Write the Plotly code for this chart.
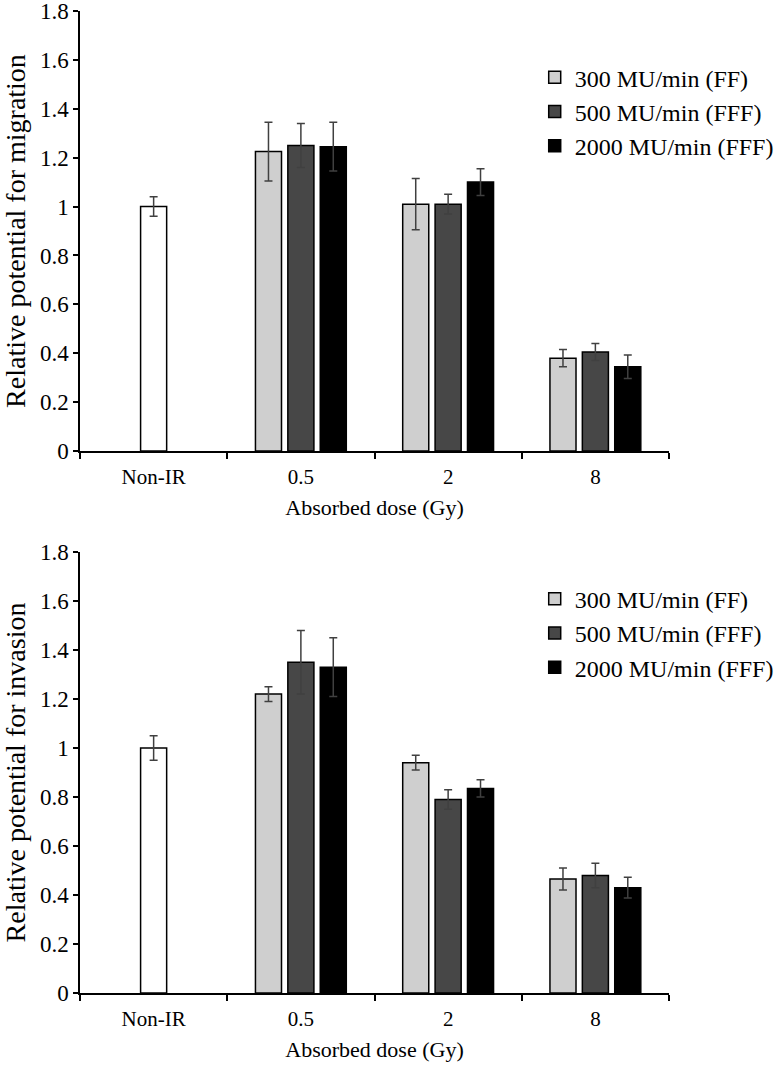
import plotly.graph_objects as go
from plotly.subplots import make_subplots

categories = ["Non-IR", "0.5", "2", "8"]
dose_groups = ["0.5", "2", "8"]
series_names = ["300 MU/min (FF)", "500 MU/min (FFF)", "2000 MU/min (FFF)"]
series_colors = ["#cfcfcf", "#474747", "#000000"]

# Migration (top)
mig_control = [1.0]
mig_control_err = [0.04]
mig_ff300 = [1.225, 1.01, 0.38]
mig_ff300_err = [0.12, 0.105, 0.035]
mig_fff500 = [1.25, 1.01, 0.405]
mig_fff500_err = [0.09, 0.04, 0.035]
mig_fff2000 = [1.245, 1.10, 0.345]
mig_fff2000_err = [0.10, 0.055, 0.048]

# Invasion (bottom)
inv_control = [1.0]
inv_control_err = [0.05]
inv_ff300 = [1.22, 0.94, 0.465]
inv_ff300_err = [0.03, 0.03, 0.045]
inv_fff500 = [1.35, 0.79, 0.48]
inv_fff500_err = [0.13, 0.04, 0.05]
inv_fff2000 = [1.33, 0.835, 0.43]
inv_fff2000_err = [0.12, 0.035, 0.042]

y_tickvals = [0, 0.2, 0.4, 0.6, 0.8, 1.0, 1.2, 1.4, 1.6, 1.8]
y_ticktext = ["0", "0.2", "0.4", "0.6", "0.8", "1", "1.2", "1.4", "1.6", "1.8"]

FONT = "Liberation Serif, Times New Roman, serif"
BW = 0.177
offsets = [-0.22 - BW / 2, -BW / 2, 0.22 - BW / 2]

fig = make_subplots(rows=2, cols=1, vertical_spacing=0.1)

panels = [
    (1, mig_control, mig_control_err,
     [mig_ff300, mig_fff500, mig_fff2000],
     [mig_ff300_err, mig_fff500_err, mig_fff2000_err], "legend"),
    (2, inv_control, inv_control_err,
     [inv_ff300, inv_fff500, inv_fff2000],
     [inv_ff300_err, inv_fff500_err, inv_fff2000_err], "legend2"),
]

for row, ctrl, ctrl_err, vals, errs, leg in panels:
    fig.add_trace(go.Bar(
        x=["Non-IR"], y=ctrl, width=BW, offset=-BW / 2,
        marker=dict(color="white", line=dict(color="black", width=1.5)),
        error_y=dict(type="data", array=ctrl_err, color="#404040", thickness=1.5, width=4),
        showlegend=False,
    ), row=row, col=1)
    for i in range(3):
        fig.add_trace(go.Bar(
            x=dose_groups, y=vals[i], width=BW, offset=offsets[i],
            name=series_names[i], legend=leg, legendgroup=f"{leg}_{i}",
            marker=dict(color=series_colors[i], line=dict(color="black", width=1.5)),
            error_y=dict(type="data", array=errs[i], color="#404040", thickness=1.5, width=4),
        ), row=row, col=1)

axis_common = dict(showline=True, linecolor="black", linewidth=1.5, ticks="outside",
                   tickcolor="black", tickwidth=1.5, showgrid=False, zeroline=False,
                   automargin=False, ticklabeloverflow="allow")

for r, dom, ytitle in [(1, [0.5519, 1.0], "Relative potential for migration"),
                       (2, [0.0, 0.4491], "Relative potential for invasion")]:
    fig.update_xaxes(categoryorder="array", categoryarray=categories,
                     range=[-0.5, 3.5], tickson="boundaries", ticklen=6, ticklabelstandoff=6,
                     tickfont=dict(family=FONT, size=21, color="black"),
                     title=dict(text="Absorbed dose (Gy)", font=dict(family=FONT, size=22, color="black"),
                                standoff=12),
                     domain=[0, 1], row=r, col=1, **axis_common)
    fig.update_yaxes(range=[0, 1.8], tickvals=y_tickvals, ticktext=y_ticktext, ticklen=5,
                     tickfont=dict(family=FONT, size=23, color="black"),
                     title=dict(text=ytitle, font=dict(family=FONT, size=28, color="black"),
                                standoff=7),
                     domain=dom, row=r, col=1, **axis_common)

legend_style = dict(font=dict(family=FONT, size=24, color="black"), bgcolor="rgba(0,0,0,0)",
                    xanchor="left", yanchor="top", tracegroupgap=1, itemwidth=30,
                    traceorder="normal")
fig.update_layout(
    barmode="overlay",
    width=774, height=1072,
    margin=dict(l=80, r=105, t=11, b=79, autoexpand=False),
    paper_bgcolor="white", plot_bgcolor="white",
    font=dict(family=FONT, color="black"),
    legend=dict(x=0.772, y=0.955, **legend_style),
    legend2=dict(x=0.772, y=0.424, **legend_style),
)

fig.write_html("out.html", config={"displayModeBar": False},
               post_script="document.body.style.margin='0';")
